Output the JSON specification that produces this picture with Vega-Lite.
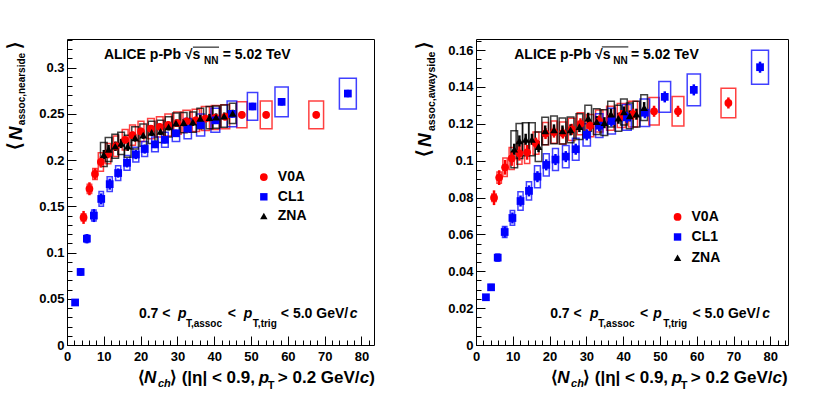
{
"$schema": "https://vega.github.io/schema/vega-lite/v6.json",
"background": "white",
"padding": {"left": 5, "top": 38, "right": 0, "bottom": 0},
"spacing": 102,
"bounds": "flush",
"datasets": {
"one": [{}],
"near": [
{"d":"V0A","x":4.5,"y":0.138,"e":0.007,"xl":3.9,"xh":5.1,"yl":0.134,"yh":0.142},
{"d":"V0A","x":6.1,"y":0.169,"e":0.007,"xl":5.5,"xh":6.7,"yl":0.164,"yh":0.174},
{"d":"V0A","x":7.6,"y":0.185,"e":0.006,"xl":7.0,"xh":8.2,"yl":0.179,"yh":0.191},
{"d":"V0A","x":9.2,"y":0.198,"e":0.006,"xl":8.5,"xh":9.9,"yl":0.188,"yh":0.208},
{"d":"V0A","x":11.2,"y":0.207,"e":0.005,"xl":10.5,"xh":11.9,"yl":0.196,"yh":0.218},
{"d":"V0A","x":13.3,"y":0.215,"e":0.005,"xl":12.6,"xh":14.0,"yl":0.204,"yh":0.226},
{"d":"V0A","x":15.8,"y":0.222,"e":0.004,"xl":15.0,"xh":16.6,"yl":0.211,"yh":0.233},
{"d":"V0A","x":17.8,"y":0.227,"e":0.004,"xl":17.0,"xh":18.6,"yl":0.216,"yh":0.238},
{"d":"V0A","x":20.1,"y":0.231,"e":0.004,"xl":19.3,"xh":20.9,"yl":0.220,"yh":0.242},
{"d":"V0A","x":22.8,"y":0.234,"e":0.004,"xl":21.9,"xh":23.7,"yl":0.223,"yh":0.245},
{"d":"V0A","x":25.2,"y":0.236,"e":0.004,"xl":24.3,"xh":26.1,"yl":0.225,"yh":0.247},
{"d":"V0A","x":27.5,"y":0.238,"e":0.004,"xl":26.6,"xh":28.4,"yl":0.226,"yh":0.250},
{"d":"V0A","x":30.0,"y":0.240,"e":0.004,"xl":29.0,"xh":31.0,"yl":0.228,"yh":0.252},
{"d":"V0A","x":32.5,"y":0.242,"e":0.004,"xl":31.5,"xh":33.5,"yl":0.230,"yh":0.254},
{"d":"V0A","x":35.0,"y":0.243,"e":0.004,"xl":34.0,"xh":36.0,"yl":0.231,"yh":0.255},
{"d":"V0A","x":37.6,"y":0.245,"e":0.004,"xl":36.5,"xh":38.7,"yl":0.232,"yh":0.258},
{"d":"V0A","x":40.3,"y":0.246,"e":0.004,"xl":39.2,"xh":41.4,"yl":0.233,"yh":0.259},
{"d":"V0A","x":43.0,"y":0.247,"e":0.004,"xl":41.8,"xh":44.2,"yl":0.234,"yh":0.260},
{"d":"V0A","x":47.5,"y":0.249,"e":0.004,"xl":46.1,"xh":48.9,"yl":0.235,"yh":0.263},
{"d":"V0A","x":54.1,"y":0.249,"e":0.004,"xl":52.5,"xh":55.7,"yl":0.234,"yh":0.264},
{"d":"V0A","x":67.7,"y":0.249,"e":0.004,"xl":65.7,"xh":69.7,"yl":0.234,"yh":0.264},
{"d":"CL1","x":2.2,"y":0.046,"e":0.003,"xl":1.8,"xh":2.6,"yl":0.044,"yh":0.048},
{"d":"CL1","x":3.7,"y":0.079,"e":0.004,"xl":3.2,"xh":4.2,"yl":0.076,"yh":0.082},
{"d":"CL1","x":5.4,"y":0.115,"e":0.005,"xl":4.9,"xh":5.9,"yl":0.111,"yh":0.119},
{"d":"CL1","x":7.3,"y":0.140,"e":0.007,"xl":6.7,"xh":7.9,"yl":0.134,"yh":0.146},
{"d":"CL1","x":9.3,"y":0.158,"e":0.006,"xl":8.7,"xh":9.9,"yl":0.150,"yh":0.166},
{"d":"CL1","x":11.6,"y":0.174,"e":0.006,"xl":10.9,"xh":12.3,"yl":0.166,"yh":0.182},
{"d":"CL1","x":13.9,"y":0.186,"e":0.005,"xl":13.2,"xh":14.6,"yl":0.178,"yh":0.194},
{"d":"CL1","x":16.3,"y":0.197,"e":0.005,"xl":15.5,"xh":17.1,"yl":0.189,"yh":0.205},
{"d":"CL1","x":18.7,"y":0.206,"e":0.005,"xl":17.9,"xh":19.5,"yl":0.198,"yh":0.214},
{"d":"CL1","x":21.1,"y":0.212,"e":0.005,"xl":20.3,"xh":21.9,"yl":0.204,"yh":0.220},
{"d":"CL1","x":23.9,"y":0.217,"e":0.004,"xl":23.0,"xh":24.8,"yl":0.209,"yh":0.225},
{"d":"CL1","x":26.6,"y":0.222,"e":0.004,"xl":25.7,"xh":27.5,"yl":0.214,"yh":0.230},
{"d":"CL1","x":29.6,"y":0.229,"e":0.004,"xl":28.6,"xh":30.6,"yl":0.220,"yh":0.238},
{"d":"CL1","x":32.8,"y":0.234,"e":0.004,"xl":31.8,"xh":33.8,"yl":0.223,"yh":0.245},
{"d":"CL1","x":36.3,"y":0.238,"e":0.004,"xl":35.2,"xh":37.4,"yl":0.226,"yh":0.250},
{"d":"CL1","x":40.3,"y":0.243,"e":0.004,"xl":39.1,"xh":41.5,"yl":0.230,"yh":0.256},
{"d":"CL1","x":44.8,"y":0.250,"e":0.004,"xl":43.5,"xh":46.1,"yl":0.236,"yh":0.264},
{"d":"CL1","x":50.4,"y":0.258,"e":0.004,"xl":49.0,"xh":51.8,"yl":0.243,"yh":0.273},
{"d":"CL1","x":58.3,"y":0.263,"e":0.004,"xl":56.5,"xh":60.1,"yl":0.247,"yh":0.279},
{"d":"CL1","x":76.3,"y":0.272,"e":0.004,"xl":74.0,"xh":78.6,"yl":0.2554,"yh":0.2886},
{"d":"ZNA","x":10.0,"y":0.206,"e":0.005,"xl":9.1,"xh":10.9,"yl":0.193,"yh":0.219},
{"d":"ZNA","x":11.3,"y":0.2115,"e":0.005,"xl":10.4,"xh":12.2,"yl":0.1985,"yh":0.2245},
{"d":"ZNA","x":13.1,"y":0.215,"e":0.005,"xl":12.2,"xh":14.0,"yl":0.202,"yh":0.228},
{"d":"ZNA","x":14.7,"y":0.218,"e":0.005,"xl":13.8,"xh":15.6,"yl":0.206,"yh":0.230},
{"d":"ZNA","x":16.5,"y":0.215,"e":0.005,"xl":15.6,"xh":17.4,"yl":0.203,"yh":0.227},
{"d":"ZNA","x":18.5,"y":0.224,"e":0.004,"xl":17.6,"xh":19.4,"yl":0.212,"yh":0.236},
{"d":"ZNA","x":20.7,"y":0.227,"e":0.004,"xl":19.8,"xh":21.6,"yl":0.215,"yh":0.239},
{"d":"ZNA","x":23.0,"y":0.230,"e":0.004,"xl":22.1,"xh":23.9,"yl":0.218,"yh":0.242},
{"d":"ZNA","x":25.4,"y":0.231,"e":0.004,"xl":24.5,"xh":26.3,"yl":0.219,"yh":0.243},
{"d":"ZNA","x":27.6,"y":0.236,"e":0.004,"xl":26.7,"xh":28.5,"yl":0.225,"yh":0.247},
{"d":"ZNA","x":29.6,"y":0.240,"e":0.004,"xl":28.7,"xh":30.5,"yl":0.229,"yh":0.251},
{"d":"ZNA","x":31.7,"y":0.2405,"e":0.004,"xl":30.8,"xh":32.6,"yl":0.2295,"yh":0.2515},
{"d":"ZNA","x":34.2,"y":0.241,"e":0.004,"xl":33.3,"xh":35.1,"yl":0.230,"yh":0.252},
{"d":"ZNA","x":36.2,"y":0.245,"e":0.004,"xl":35.3,"xh":37.1,"yl":0.234,"yh":0.256},
{"d":"ZNA","x":38.7,"y":0.246,"e":0.004,"xl":37.8,"xh":39.6,"yl":0.234,"yh":0.258},
{"d":"ZNA","x":40.5,"y":0.2465,"e":0.004,"xl":39.6,"xh":41.4,"yl":0.2345,"yh":0.2585},
{"d":"ZNA","x":42.7,"y":0.2475,"e":0.004,"xl":41.8,"xh":43.6,"yl":0.2355,"yh":0.2595},
{"d":"ZNA","x":45.0,"y":0.2505,"e":0.004,"xl":44.1,"xh":45.9,"yl":0.2395,"yh":0.2615}
],
"away": [
{"d":"V0A","x":4.9,"y":0.0799,"e":0.004,"xl":4.3,"xh":5.5,"yl":0.0779,"yh":0.0819},
{"d":"V0A","x":6.3,"y":0.0908,"e":0.004,"xl":5.7,"xh":6.9,"yl":0.0878,"yh":0.0938},
{"d":"V0A","x":7.9,"y":0.0964,"e":0.004,"xl":7.3,"xh":8.5,"yl":0.0914,"yh":0.1014},
{"d":"V0A","x":9.7,"y":0.1012,"e":0.004,"xl":9.0,"xh":10.4,"yl":0.0952,"yh":0.1072},
{"d":"V0A","x":11.8,"y":0.1040,"e":0.004,"xl":11.1,"xh":12.5,"yl":0.098,"yh":0.110},
{"d":"V0A","x":13.9,"y":0.1045,"e":0.004,"xl":13.2,"xh":14.6,"yl":0.0985,"yh":0.1105},
{"d":"V0A","x":16.3,"y":0.1095,"e":0.003,"xl":15.5,"xh":17.1,"yl":0.1035,"yh":0.1155},
{"d":"V0A","x":18.9,"y":0.1147,"e":0.003,"xl":18.1,"xh":19.7,"yl":0.1087,"yh":0.1207},
{"d":"V0A","x":21.2,"y":0.1155,"e":0.003,"xl":20.4,"xh":22.0,"yl":0.1095,"yh":0.1215},
{"d":"V0A","x":23.6,"y":0.1150,"e":0.003,"xl":22.7,"xh":24.5,"yl":0.109,"yh":0.121},
{"d":"V0A","x":26.0,"y":0.1170,"e":0.003,"xl":25.1,"xh":26.9,"yl":0.111,"yh":0.123},
{"d":"V0A","x":28.4,"y":0.1200,"e":0.003,"xl":27.5,"xh":29.3,"yl":0.114,"yh":0.126},
{"d":"V0A","x":31.0,"y":0.1190,"e":0.003,"xl":30.0,"xh":32.0,"yl":0.113,"yh":0.125},
{"d":"V0A","x":33.5,"y":0.1215,"e":0.003,"xl":32.5,"xh":34.5,"yl":0.1155,"yh":0.1275},
{"d":"V0A","x":36.5,"y":0.1230,"e":0.003,"xl":35.5,"xh":37.5,"yl":0.1165,"yh":0.1295},
{"d":"V0A","x":39.5,"y":0.1245,"e":0.003,"xl":38.4,"xh":40.6,"yl":0.118,"yh":0.131},
{"d":"V0A","x":42.7,"y":0.1252,"e":0.003,"xl":41.5,"xh":43.9,"yl":0.1182,"yh":0.1322},
{"d":"V0A","x":48.4,"y":0.1268,"e":0.003,"xl":47.0,"xh":49.8,"yl":0.1193,"yh":0.1343},
{"d":"V0A","x":54.9,"y":0.1268,"e":0.003,"xl":53.3,"xh":56.5,"yl":0.1188,"yh":0.1348},
{"d":"V0A","x":68.6,"y":0.1313,"e":0.003,"xl":66.6,"xh":70.6,"yl":0.1233,"yh":0.1393},
{"d":"CL1","x":2.7,"y":0.0259,"e":0.0015,"xl":2.3,"xh":3.1,"yl":0.0249,"yh":0.0269},
{"d":"CL1","x":4.1,"y":0.0313,"e":0.0015,"xl":3.6,"xh":4.6,"yl":0.0298,"yh":0.0328},
{"d":"CL1","x":5.9,"y":0.0474,"e":0.002,"xl":5.4,"xh":6.4,"yl":0.0454,"yh":0.0494},
{"d":"CL1","x":7.8,"y":0.0613,"e":0.003,"xl":7.2,"xh":8.4,"yl":0.0583,"yh":0.0643},
{"d":"CL1","x":9.9,"y":0.0689,"e":0.003,"xl":9.3,"xh":10.5,"yl":0.0649,"yh":0.0729},
{"d":"CL1","x":12.1,"y":0.0781,"e":0.003,"xl":11.4,"xh":12.8,"yl":0.0731,"yh":0.0831},
{"d":"CL1","x":14.4,"y":0.0836,"e":0.003,"xl":13.7,"xh":15.1,"yl":0.0786,"yh":0.0886},
{"d":"CL1","x":16.7,"y":0.0913,"e":0.003,"xl":15.9,"xh":17.5,"yl":0.0853,"yh":0.0973},
{"d":"CL1","x":19.1,"y":0.0977,"e":0.003,"xl":18.3,"xh":19.9,"yl":0.0917,"yh":0.1037},
{"d":"CL1","x":21.6,"y":0.1006,"e":0.003,"xl":20.8,"xh":22.4,"yl":0.0946,"yh":0.1066},
{"d":"CL1","x":24.4,"y":0.1022,"e":0.003,"xl":23.5,"xh":25.3,"yl":0.0962,"yh":0.1082},
{"d":"CL1","x":27.1,"y":0.1062,"e":0.003,"xl":26.2,"xh":28.0,"yl":0.1002,"yh":0.1122},
{"d":"CL1","x":30.1,"y":0.1140,"e":0.003,"xl":29.1,"xh":31.1,"yl":0.108,"yh":0.120},
{"d":"CL1","x":33.5,"y":0.1190,"e":0.003,"xl":32.5,"xh":34.5,"yl":0.1125,"yh":0.1255},
{"d":"CL1","x":36.8,"y":0.1215,"e":0.003,"xl":35.7,"xh":37.9,"yl":0.1145,"yh":0.1285},
{"d":"CL1","x":41.0,"y":0.1235,"e":0.003,"xl":39.8,"xh":42.2,"yl":0.1165,"yh":0.1305},
{"d":"CL1","x":45.9,"y":0.1260,"e":0.003,"xl":44.6,"xh":47.2,"yl":0.1185,"yh":0.1335},
{"d":"CL1","x":51.3,"y":0.1346,"e":0.003,"xl":49.7,"xh":52.9,"yl":0.1262,"yh":0.1430},
{"d":"CL1","x":59.2,"y":0.1384,"e":0.003,"xl":57.4,"xh":61.0,"yl":0.1298,"yh":0.1470},
{"d":"CL1","x":77.2,"y":0.1507,"e":0.003,"xl":74.9,"xh":79.5,"yl":0.1415,"yh":0.1599},
{"d":"ZNA","x":10.4,"y":0.1062,"e":0.003,"xl":9.5,"xh":11.3,"yl":0.0962,"yh":0.1162},
{"d":"ZNA","x":11.8,"y":0.1107,"e":0.003,"xl":10.9,"xh":12.7,"yl":0.1012,"yh":0.1202},
{"d":"ZNA","x":13.5,"y":0.1116,"e":0.003,"xl":12.6,"xh":14.4,"yl":0.1026,"yh":0.1206},
{"d":"ZNA","x":15.2,"y":0.1116,"e":0.003,"xl":14.3,"xh":16.1,"yl":0.1026,"yh":0.1206},
{"d":"ZNA","x":17.0,"y":0.1076,"e":0.003,"xl":16.1,"xh":17.9,"yl":0.0996,"yh":0.1156},
{"d":"ZNA","x":18.8,"y":0.1161,"e":0.003,"xl":17.9,"xh":19.7,"yl":0.1086,"yh":0.1236},
{"d":"ZNA","x":21.2,"y":0.1167,"e":0.003,"xl":20.3,"xh":22.1,"yl":0.1092,"yh":0.1242},
{"d":"ZNA","x":23.5,"y":0.1161,"e":0.003,"xl":22.6,"xh":24.4,"yl":0.1091,"yh":0.1231},
{"d":"ZNA","x":25.7,"y":0.1167,"e":0.003,"xl":24.8,"xh":26.6,"yl":0.1097,"yh":0.1237},
{"d":"ZNA","x":28.1,"y":0.1185,"e":0.003,"xl":27.2,"xh":29.0,"yl":0.1115,"yh":0.1255},
{"d":"ZNA","x":30.5,"y":0.1230,"e":0.003,"xl":29.6,"xh":31.4,"yl":0.116,"yh":0.130},
{"d":"ZNA","x":32.8,"y":0.1212,"e":0.003,"xl":31.9,"xh":33.7,"yl":0.1142,"yh":0.1282},
{"d":"ZNA","x":34.9,"y":0.1206,"e":0.003,"xl":34.0,"xh":35.8,"yl":0.1136,"yh":0.1276},
{"d":"ZNA","x":36.7,"y":0.1252,"e":0.003,"xl":35.8,"xh":37.6,"yl":0.1182,"yh":0.1322},
{"d":"ZNA","x":38.7,"y":0.1230,"e":0.003,"xl":37.8,"xh":39.6,"yl":0.116,"yh":0.130},
{"d":"ZNA","x":40.2,"y":0.1264,"e":0.003,"xl":39.3,"xh":41.1,"yl":0.1194,"yh":0.1334},
{"d":"ZNA","x":41.8,"y":0.1243,"e":0.003,"xl":40.9,"xh":42.7,"yl":0.1173,"yh":0.1313},
{"d":"ZNA","x":43.6,"y":0.1252,"e":0.003,"xl":42.7,"xh":44.5,"yl":0.1182,"yh":0.1322},
{"d":"ZNA","x":45.7,"y":0.1288,"e":0.003,"xl":44.8,"xh":46.6,"yl":0.1218,"yh":0.1358}
]
},
"hconcat": [
{
"width": 307, "height": 306,
"resolve": {"axis": {"x": "independent", "y": "independent"}},
"layer": [
{"layer": [
{"data": {"name": "near"},
 "mark": {"type": "rect", "filled": false, "strokeWidth": 1.5, "strokeOpacity": 0.75},
 "encoding": {
  "x": {"field": "xl", "type": "quantitative", "scale": {"domain": [0, 83.4], "nice": false, "zero": false},
        "axis": {"orient": "bottom", "title": null, "values": [0,10,20,30,40,50,60,70,80], "tickCount": 100, "format": "d", "tickSize": -9, "labelPadding": 14, "labelOverlap": false}},
  "x2": {"field": "xh"},
  "y": {"field": "yl", "type": "quantitative", "scale": {"domain": [0, 0.331], "nice": false, "zero": false},
        "axis": {"orient": "left", "title": null, "values": [0,0.05,0.1,0.15,0.2,0.25,0.3], "tickCount": 100, "format": ".2~f", "tickSize": -9, "labelPadding": 12, "labelOverlap": false}},
  "y2": {"field": "yh"},
  "color": {"field": "d", "type": "nominal", "scale": {"domain": ["V0A", "CL1", "ZNA"], "range": ["#ff0000", "#0000ff", "#000000"]}, "legend": null}
 }},
{"data": {"name": "near"},
 "mark": {"type": "errorbar", "thickness": 2.5},
 "encoding": {
  "x": {"field": "x", "type": "quantitative"},
  "y": {"field": "y", "type": "quantitative"},
  "yError": {"field": "e"},
  "color": {"field": "d", "type": "nominal", "legend": null}
 }},
{"data": {"name": "near"},
 "mark": {"type": "point", "filled": true, "opacity": 1, "size": 60},
 "encoding": {
  "x": {"field": "x", "type": "quantitative"},
  "y": {"field": "y", "type": "quantitative"},
  "color": {"field": "d", "type": "nominal", "legend": null},
  "shape": {"field": "d", "type": "nominal", "scale": {"domain": ["V0A", "CL1", "ZNA"], "range": ["circle", "square", "triangle-up"]}, "legend": null}
 }},
{"data": {"name": "one"}, "mark": {"type": "point", "filled": true, "opacity": 1, "size": 60, "shape": "circle", "color": "#ff0000"}, "encoding": {"x": {"datum": 53.47, "type": "quantitative"}, "y": {"datum": 0.1816, "type": "quantitative"}}},
{"data": {"name": "one"}, "mark": {"type": "point", "filled": true, "opacity": 1, "size": 55, "shape": "square", "color": "#0000ff"}, "encoding": {"x": {"datum": 53.47, "type": "quantitative"}, "y": {"datum": 0.1603, "type": "quantitative"}}},
{"data": {"name": "one"}, "mark": {"type": "point", "filled": true, "opacity": 1, "size": 55, "shape": "triangle-up", "color": "#000000"}, "encoding": {"x": {"datum": 53.47, "type": "quantitative"}, "y": {"datum": 0.1395, "type": "quantitative"}}},
{"data": {"name": "one"}, "mark": {"type": "text", "text": "V0A", "baseline": "middle"}, "encoding": {"x": {"datum": 57.27, "type": "quantitative"}, "y": {"datum": 0.1816, "type": "quantitative"}}},
{"data": {"name": "one"}, "mark": {"type": "text", "text": "CL1", "baseline": "middle"}, "encoding": {"x": {"datum": 57.27, "type": "quantitative"}, "y": {"datum": 0.1603, "type": "quantitative"}}},
{"data": {"name": "one"}, "mark": {"type": "text", "text": "ZNA", "baseline": "middle"}, "encoding": {"x": {"datum": 57.27, "type": "quantitative"}, "y": {"datum": 0.1395, "type": "quantitative"}}},
{"data": {"name": "one"}, "mark": {"type": "text", "text": "ALICE p-Pb √s"}, "encoding": {"x": {"datum": 10.04, "type": "quantitative"}, "y": {"datum": 0.3092, "type": "quantitative"}}},
{"data": {"name": "one"}, "mark": {"type": "text", "text": "NN", "fontSize": 10}, "encoding": {"x": {"datum": 37.2, "type": "quantitative"}, "y": {"datum": 0.3043, "type": "quantitative"}}},
{"data": {"name": "one"}, "mark": {"type": "text", "text": "= 5.02 TeV"}, "encoding": {"x": {"datum": 42.3, "type": "quantitative"}, "y": {"datum": 0.3092, "type": "quantitative"}}},
{"data": {"name": "one"}, "mark": {"type": "rule", "color": "black", "strokeWidth": 1}, "encoding": {"x": {"datum": 34.2, "type": "quantitative"}, "x2": {"datum": 41.3}, "y": {"datum": 0.3222, "type": "quantitative"}}},
{"data": {"name": "one"}, "mark": {"type": "text", "text": "0.7 <"}, "encoding": {"x": {"datum": 19.54, "type": "quantitative"}, "y": {"datum": 0.0292, "type": "quantitative"}}},
{"data": {"name": "one"}, "mark": {"type": "text", "text": "p", "fontStyle": "italic"}, "encoding": {"x": {"datum": 30.13, "type": "quantitative"}, "y": {"datum": 0.0292, "type": "quantitative"}}},
{"data": {"name": "one"}, "mark": {"type": "text", "text": "T,assoc", "fontSize": 10}, "encoding": {"x": {"datum": 32.3, "type": "quantitative"}, "y": {"datum": 0.01946, "type": "quantitative"}}},
{"data": {"name": "one"}, "mark": {"type": "text", "text": "<"}, "encoding": {"x": {"datum": 43.7, "type": "quantitative"}, "y": {"datum": 0.0292, "type": "quantitative"}}},
{"data": {"name": "one"}, "mark": {"type": "text", "text": "p", "fontStyle": "italic"}, "encoding": {"x": {"datum": 48.05, "type": "quantitative"}, "y": {"datum": 0.0292, "type": "quantitative"}}},
{"data": {"name": "one"}, "mark": {"type": "text", "text": "T,trig", "fontSize": 10}, "encoding": {"x": {"datum": 50.49, "type": "quantitative"}, "y": {"datum": 0.01946, "type": "quantitative"}}},
{"data": {"name": "one"}, "mark": {"type": "text", "text": "< 5.0 GeV/"}, "encoding": {"x": {"datum": 58.09, "type": "quantitative"}, "y": {"datum": 0.0292, "type": "quantitative"}}},
{"data": {"name": "one"}, "mark": {"type": "text", "text": "c", "fontStyle": "italic"}, "encoding": {"x": {"datum": 76.8, "type": "quantitative"}, "y": {"datum": 0.0292, "type": "quantitative"}}},
{"data": {"name": "one"}, "mark": {"type": "text", "text": "⟨", "fontSize": 17}, "encoding": {"x": {"datum": 19.27, "type": "quantitative"}, "y": {"datum": -0.0411, "type": "quantitative"}}},
{"data": {"name": "one"}, "mark": {"type": "text", "text": "N", "fontSize": 17, "fontStyle": "italic"}, "encoding": {"x": {"datum": 20.9, "type": "quantitative"}, "y": {"datum": -0.0411, "type": "quantitative"}}},
{"data": {"name": "one"}, "mark": {"type": "text", "text": "ch", "fontSize": 11, "fontStyle": "italic"}, "encoding": {"x": {"datum": 24.7, "type": "quantitative"}, "y": {"datum": -0.0454, "type": "quantitative"}}},
{"data": {"name": "one"}, "mark": {"type": "text", "text": "⟩ (|η| < 0.9,", "fontSize": 17}, "encoding": {"x": {"datum": 27.96, "type": "quantitative"}, "y": {"datum": -0.0411, "type": "quantitative"}}},
{"data": {"name": "one"}, "mark": {"type": "text", "text": "p", "fontSize": 17, "fontStyle": "italic"}, "encoding": {"x": {"datum": 52.12, "type": "quantitative"}, "y": {"datum": -0.0411, "type": "quantitative"}}},
{"data": {"name": "one"}, "mark": {"type": "text", "text": "T", "fontSize": 11}, "encoding": {"x": {"datum": 54.56, "type": "quantitative"}, "y": {"datum": -0.0476, "type": "quantitative"}}},
{"data": {"name": "one"}, "mark": {"type": "text", "text": "> 0.2 GeV/", "fontSize": 17}, "encoding": {"x": {"datum": 57.27, "type": "quantitative"}, "y": {"datum": -0.0411, "type": "quantitative"}}},
{"data": {"name": "one"}, "mark": {"type": "text", "text": "c", "fontSize": 17, "fontStyle": "italic"}, "encoding": {"x": {"datum": 79.5, "type": "quantitative"}, "y": {"datum": -0.0411, "type": "quantitative"}}},
{"data": {"name": "one"}, "mark": {"type": "text", "text": ")", "fontSize": 17}, "encoding": {"x": {"datum": 82.1, "type": "quantitative"}, "y": {"datum": -0.0411, "type": "quantitative"}}},
{"data": {"name": "one"}, "mark": {"type": "text", "text": "⟨", "fontSize": 19, "angle": 270}, "encoding": {"x": {"datum": -12.49, "type": "quantitative"}, "y": {"datum": 0.2108, "type": "quantitative"}}},
{"data": {"name": "one"}, "mark": {"type": "text", "text": "N", "fontSize": 19, "fontStyle": "italic", "angle": 270}, "encoding": {"x": {"datum": -12.35, "type": "quantitative"}, "y": {"datum": 0.2216, "type": "quantitative"}}},
{"data": {"name": "one"}, "mark": {"type": "text", "text": "assoc,nearside", "fontSize": 10, "angle": 270}, "encoding": {"x": {"datum": -11.3, "type": "quantitative"}, "y": {"datum": 0.2378, "type": "quantitative"}}},
{"data": {"name": "one"}, "mark": {"type": "text", "text": "⟩", "fontSize": 19, "angle": 270}, "encoding": {"x": {"datum": -12.49, "type": "quantitative"}, "y": {"datum": 0.32, "type": "quantitative"}}}
]},
{"data": {"name": "one"}, "mark": {"type": "text", "text": ""},
 "encoding": {
  "x": {"datum": 0, "type": "quantitative", "axis": {"orient": "bottom", "title": null, "tickCount": 100, "values": [0,2,4,6,8,12,14,16,18,22,24,26,28,32,34,36,38,42,44,46,48,52,54,56,58,62,64,66,68,72,74,76,78,82], "labels": false, "tickSize": -5}},
  "y": {"datum": 0, "type": "quantitative", "axis": {"orient": "left", "title": null, "tickCount": 100, "values": [0.01,0.02,0.03,0.04,0.06,0.07,0.08,0.09,0.11,0.12,0.13,0.14,0.16,0.17,0.18,0.19,0.21,0.22,0.23,0.24,0.26,0.27,0.28,0.29,0.31,0.32,0.33], "labels": false, "tickSize": -5}}
 }}
]
},
{
"width": 312, "height": 306,
"resolve": {"axis": {"x": "independent", "y": "independent"}},
"layer": [
{"layer": [
{"data": {"name": "away"},
 "mark": {"type": "rect", "filled": false, "strokeWidth": 1.5, "strokeOpacity": 0.75},
 "encoding": {
  "x": {"field": "xl", "type": "quantitative", "scale": {"domain": [0, 84.8], "nice": false, "zero": false},
        "axis": {"orient": "bottom", "title": null, "values": [0,10,20,30,40,50,60,70,80], "tickCount": 100, "format": "d", "tickSize": -9, "labelPadding": 14, "labelOverlap": false}},
  "x2": {"field": "xh"},
  "y": {"field": "yl", "type": "quantitative", "scale": {"domain": [0, 0.166], "nice": false, "zero": false},
        "axis": {"orient": "left", "title": null, "values": [0,0.02,0.04,0.06,0.08,0.1,0.12,0.14,0.16], "tickCount": 100, "format": ".2~f", "tickSize": -9, "labelPadding": 12, "labelOverlap": false}},
  "y2": {"field": "yh"},
  "color": {"field": "d", "type": "nominal", "scale": {"domain": ["V0A", "CL1", "ZNA"], "range": ["#ff0000", "#0000ff", "#000000"]}, "legend": null}
 }},
{"data": {"name": "away"},
 "mark": {"type": "errorbar", "thickness": 2.5},
 "encoding": {
  "x": {"field": "x", "type": "quantitative"},
  "y": {"field": "y", "type": "quantitative"},
  "yError": {"field": "e"},
  "color": {"field": "d", "type": "nominal", "legend": null}
 }},
{"data": {"name": "away"},
 "mark": {"type": "point", "filled": true, "opacity": 1, "size": 60},
 "encoding": {
  "x": {"field": "x", "type": "quantitative"},
  "y": {"field": "y", "type": "quantitative"},
  "color": {"field": "d", "type": "nominal", "legend": null},
  "shape": {"field": "d", "type": "nominal", "scale": {"domain": ["V0A", "CL1", "ZNA"], "range": ["circle", "square", "triangle-up"]}, "legend": null}
 }},
{"data": {"name": "one"}, "mark": {"type": "point", "filled": true, "opacity": 1, "size": 60, "shape": "circle", "color": "#ff0000"}, "encoding": {"x": {"datum": 54.78, "type": "quantitative"}, "y": {"datum": 0.06945, "type": "quantitative"}}},
{"data": {"name": "one"}, "mark": {"type": "point", "filled": true, "opacity": 1, "size": 55, "shape": "square", "color": "#0000ff"}, "encoding": {"x": {"datum": 54.78, "type": "quantitative"}, "y": {"datum": 0.0586, "type": "quantitative"}}},
{"data": {"name": "one"}, "mark": {"type": "point", "filled": true, "opacity": 1, "size": 55, "shape": "triangle-up", "color": "#000000"}, "encoding": {"x": {"datum": 54.78, "type": "quantitative"}, "y": {"datum": 0.04737, "type": "quantitative"}}},
{"data": {"name": "one"}, "mark": {"type": "text", "text": "V0A", "baseline": "middle"}, "encoding": {"x": {"datum": 58.58, "type": "quantitative"}, "y": {"datum": 0.06945, "type": "quantitative"}}},
{"data": {"name": "one"}, "mark": {"type": "text", "text": "CL1", "baseline": "middle"}, "encoding": {"x": {"datum": 58.58, "type": "quantitative"}, "y": {"datum": 0.0586, "type": "quantitative"}}},
{"data": {"name": "one"}, "mark": {"type": "text", "text": "ZNA", "baseline": "middle"}, "encoding": {"x": {"datum": 58.58, "type": "quantitative"}, "y": {"datum": 0.04737, "type": "quantitative"}}},
{"data": {"name": "one"}, "mark": {"type": "text", "text": "ALICE p-Pb √s"}, "encoding": {"x": {"datum": 10.39, "type": "quantitative"}, "y": {"datum": 0.1552, "type": "quantitative"}}},
{"data": {"name": "one"}, "mark": {"type": "text", "text": "NN", "fontSize": 10}, "encoding": {"x": {"datum": 37.3, "type": "quantitative"}, "y": {"datum": 0.1527, "type": "quantitative"}}},
{"data": {"name": "one"}, "mark": {"type": "text", "text": "= 5.02 TeV"}, "encoding": {"x": {"datum": 42.1, "type": "quantitative"}, "y": {"datum": 0.1552, "type": "quantitative"}}},
{"data": {"name": "one"}, "mark": {"type": "rule", "color": "black", "strokeWidth": 1}, "encoding": {"x": {"datum": 34.2, "type": "quantitative"}, "x2": {"datum": 41.4}, "y": {"datum": 0.1617, "type": "quantitative"}}},
{"data": {"name": "one"}, "mark": {"type": "text", "text": "0.7 <"}, "encoding": {"x": {"datum": 20.15, "type": "quantitative"}, "y": {"datum": 0.01449, "type": "quantitative"}}},
{"data": {"name": "one"}, "mark": {"type": "text", "text": "p", "fontStyle": "italic"}, "encoding": {"x": {"datum": 31.0, "type": "quantitative"}, "y": {"datum": 0.01449, "type": "quantitative"}}},
{"data": {"name": "one"}, "mark": {"type": "text", "text": "T,assoc", "fontSize": 10}, "encoding": {"x": {"datum": 33.25, "type": "quantitative"}, "y": {"datum": 0.00977, "type": "quantitative"}}},
{"data": {"name": "one"}, "mark": {"type": "text", "text": "<"}, "encoding": {"x": {"datum": 44.56, "type": "quantitative"}, "y": {"datum": 0.01449, "type": "quantitative"}}},
{"data": {"name": "one"}, "mark": {"type": "text", "text": "p", "fontStyle": "italic"}, "encoding": {"x": {"datum": 48.17, "type": "quantitative"}, "y": {"datum": 0.01449, "type": "quantitative"}}},
{"data": {"name": "one"}, "mark": {"type": "text", "text": "T,trig", "fontSize": 10}, "encoding": {"x": {"datum": 50.88, "type": "quantitative"}, "y": {"datum": 0.00977, "type": "quantitative"}}},
{"data": {"name": "one"}, "mark": {"type": "text", "text": "< 5.0 GeV/"}, "encoding": {"x": {"datum": 58.85, "type": "quantitative"}, "y": {"datum": 0.01449, "type": "quantitative"}}},
{"data": {"name": "one"}, "mark": {"type": "text", "text": "c", "fontStyle": "italic"}, "encoding": {"x": {"datum": 77.83, "type": "quantitative"}, "y": {"datum": 0.01449, "type": "quantitative"}}},
{"data": {"name": "one"}, "mark": {"type": "text", "text": "⟨", "fontSize": 17}, "encoding": {"x": {"datum": 20.42, "type": "quantitative"}, "y": {"datum": -0.02062, "type": "quantitative"}}},
{"data": {"name": "one"}, "mark": {"type": "text", "text": "N", "fontSize": 17, "fontStyle": "italic"}, "encoding": {"x": {"datum": 22.05, "type": "quantitative"}, "y": {"datum": -0.02062, "type": "quantitative"}}},
{"data": {"name": "one"}, "mark": {"type": "text", "text": "ch", "fontSize": 11, "fontStyle": "italic"}, "encoding": {"x": {"datum": 25.84, "type": "quantitative"}, "y": {"datum": -0.02279, "type": "quantitative"}}},
{"data": {"name": "one"}, "mark": {"type": "text", "text": "⟩ (|η| < 0.9,", "fontSize": 17}, "encoding": {"x": {"datum": 29.1, "type": "quantitative"}, "y": {"datum": -0.02062, "type": "quantitative"}}},
{"data": {"name": "one"}, "mark": {"type": "text", "text": "p", "fontSize": 17, "fontStyle": "italic"}, "encoding": {"x": {"datum": 53.23, "type": "quantitative"}, "y": {"datum": -0.02062, "type": "quantitative"}}},
{"data": {"name": "one"}, "mark": {"type": "text", "text": "T", "fontSize": 11}, "encoding": {"x": {"datum": 55.67, "type": "quantitative"}, "y": {"datum": -0.02387, "type": "quantitative"}}},
{"data": {"name": "one"}, "mark": {"type": "text", "text": "> 0.2 GeV/", "fontSize": 17}, "encoding": {"x": {"datum": 58.39, "type": "quantitative"}, "y": {"datum": -0.02062, "type": "quantitative"}}},
{"data": {"name": "one"}, "mark": {"type": "text", "text": "c", "fontSize": 17, "fontStyle": "italic"}, "encoding": {"x": {"datum": 80.6, "type": "quantitative"}, "y": {"datum": -0.02062, "type": "quantitative"}}},
{"data": {"name": "one"}, "mark": {"type": "text", "text": ")", "fontSize": 17}, "encoding": {"x": {"datum": 83.2, "type": "quantitative"}, "y": {"datum": -0.02062, "type": "quantitative"}}},
{"data": {"name": "one"}, "mark": {"type": "text", "text": "⟨", "fontSize": 19, "angle": 270}, "encoding": {"x": {"datum": -12.47, "type": "quantitative"}, "y": {"datum": 0.102, "type": "quantitative"}}},
{"data": {"name": "one"}, "mark": {"type": "text", "text": "N", "fontSize": 19, "fontStyle": "italic", "angle": 270}, "encoding": {"x": {"datum": -12.3, "type": "quantitative"}, "y": {"datum": 0.1074, "type": "quantitative"}}},
{"data": {"name": "one"}, "mark": {"type": "text", "text": "assoc,awayside", "fontSize": 10.5, "angle": 270}, "encoding": {"x": {"datum": -11.05, "type": "quantitative"}, "y": {"datum": 0.1161, "type": "quantitative"}}},
{"data": {"name": "one"}, "mark": {"type": "text", "text": "⟩", "fontSize": 19, "angle": 270}, "encoding": {"x": {"datum": -12.47, "type": "quantitative"}, "y": {"datum": 0.1606, "type": "quantitative"}}}
]},
{"data": {"name": "one"}, "mark": {"type": "text", "text": ""},
 "encoding": {
  "x": {"datum": 0, "type": "quantitative", "axis": {"orient": "bottom", "title": null, "tickCount": 100, "values": [0,2,4,6,8,12,14,16,18,22,24,26,28,32,34,36,38,42,44,46,48,52,54,56,58,62,64,66,68,72,74,76,78,82,84], "labels": false, "tickSize": -5}},
  "y": {"datum": 0, "type": "quantitative", "axis": {"orient": "left", "title": null, "tickCount": 100, "values": [0.005,0.01,0.015,0.025,0.03,0.035,0.045,0.05,0.055,0.065,0.07,0.075,0.085,0.09,0.095,0.105,0.11,0.115,0.125,0.13,0.135,0.145,0.15,0.155,0.165], "labels": false, "tickSize": -5}}
 }}
]
}
],
"resolve": {"scale": {"color": "independent", "shape": "independent", "x": "independent", "y": "independent"}},
"config": {
 "font": "Liberation Sans",
 "view": {"stroke": "black", "strokeWidth": 1},
 "axis": {"labelFont": "Liberation Sans", "labelFontWeight": "bold", "labelFontSize": 13, "labelColor": "black", "tickWidth": 1, "tickColor": "black", "domain": false, "grid": false, "labelOverlap": false, "labelFlush": false},
 "text": {"font": "Liberation Sans", "fontWeight": "bold", "fontSize": 14, "align": "left", "baseline": "alphabetic", "color": "black"}
}
}
